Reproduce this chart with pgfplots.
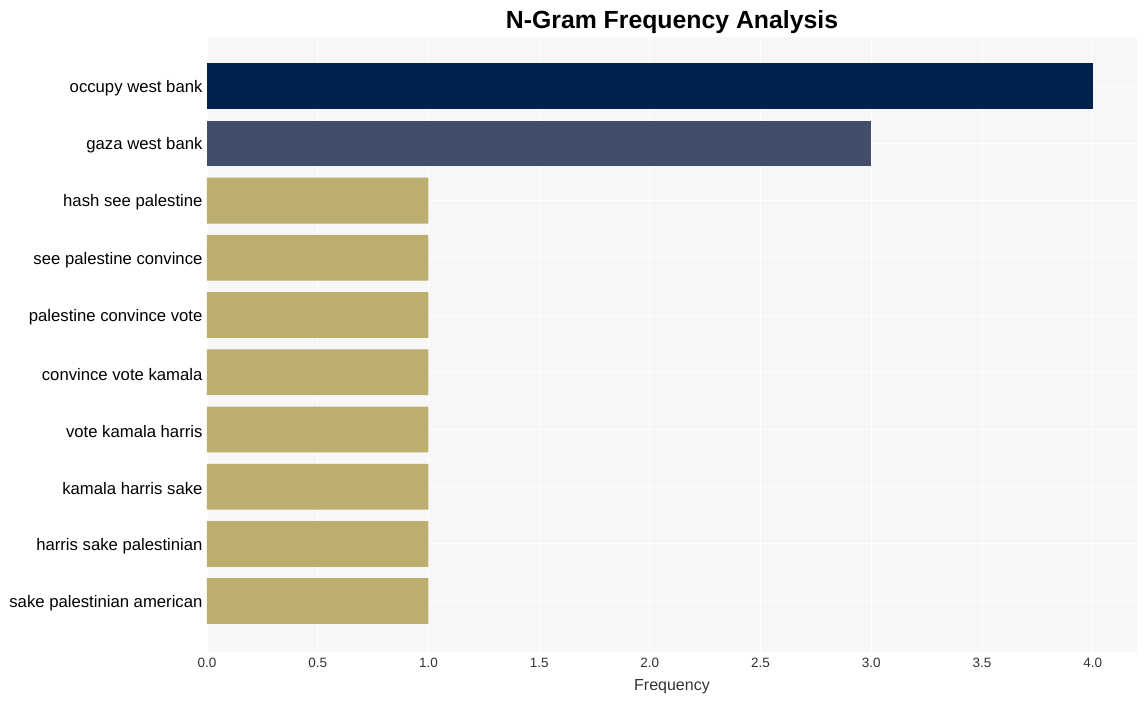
\documentclass[border=0pt]{standalone}
\usepackage{pgfplots}
\pgfplotsset{compat=1.18}
\usepackage{fontspec}
\setmainfont{Liberation Sans}

\definecolor{navy}{RGB}{0,34,78}
\definecolor{slate}{RGB}{65,77,107}
\definecolor{khaki}{RGB}{187,174,110}
\definecolor{bgray}{RGB}{247,247,247}
\definecolor{ticktxt}{RGB}{51,51,51}

\begin{document}
\begin{tikzpicture}
  \begin{axis}[
    name=ax,
    scale only axis,
    width=930pt, height=615pt,
    xbar, bar width=0.8, bar shift=0pt,
    y dir=reverse,
    xmin=0, xmax=4.2,
    ymin=-0.86, ymax=9.89,
    axis line style={draw=none},
    axis background/.style={fill=bgray},
    grid=major,
    major grid style={draw=white, line width=0.8pt},
    major tick length=0pt,
    xtick={0,0.5,...,4},
    /pgf/number format/fixed,
    /pgf/number format/fixed zerofill,
    /pgf/number format/precision=1,
    /pgf/number format/assume math mode=true,
    xticklabel style={font=\fontsize{13.5}{15}\selectfont, text=ticktxt, yshift=-3pt},
    ytick={0,...,9},
    yticklabels={occupy west bank, gaza west bank, hash see palestine, see palestine convince, palestine convince vote, convince vote kamala, vote kamala harris, kamala harris sake, harris sake palestinian, sake palestinian american},
    yticklabel style={font=\fontsize{16.7}{18}\selectfont, text=black, xshift=-1pt, yshift=-2pt},
    xlabel={Frequency},
    xlabel style={font=\fontsize{16}{18}\selectfont, text=ticktxt, yshift=-5pt},
    title={N-Gram Frequency Analysis},
    title style={font=\bfseries\fontsize{24.8}{28}\selectfont, at={(0.5,1)}, anchor=base, yshift=3pt},
  ]
  \addplot[fill=navy, draw=none] coordinates {(4,0)};
  \addplot[fill=slate, draw=none] coordinates {(3,1)};
  \addplot[fill=khaki, draw=none] coordinates {(1,2) (1,3) (1,4) (1,5) (1,6) (1,7) (1,8) (1,9)};
  \end{axis}
  \path ([xshift=-207pt,yshift=-49pt]ax.south west) rectangle ([xshift=10pt,yshift=37pt]ax.north east);
\end{tikzpicture}
\end{document}
